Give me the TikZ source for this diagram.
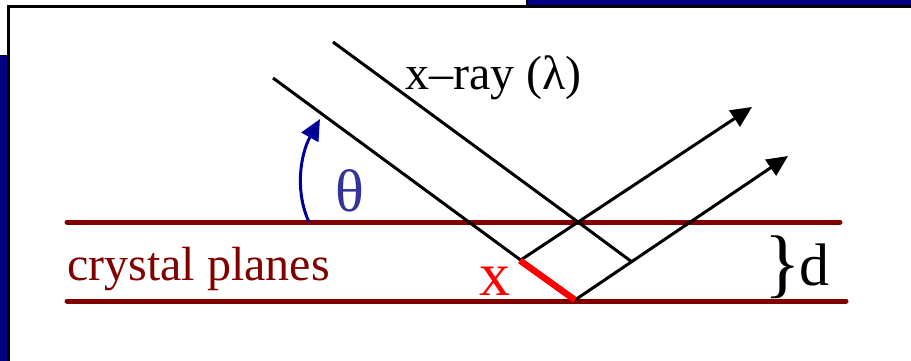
\documentclass[tikz,border=0pt]{standalone}
\usepackage{fontspec}
\setmainfont{Liberation Serif}
\usetikzlibrary{arrows.meta}
\definecolor{planered}{HTML}{800000}
\definecolor{slideblue}{HTML}{000080}
\definecolor{arcblue}{HTML}{000099}
\definecolor{thetablue}{HTML}{333399}
\tikzset{
  plane/.style={draw=planered, line width=5pt, line cap=round},
  ray/.style={draw=black, line width=3pt},
  rayarrow/.style={ray, -{Triangle[length=21pt,width=19pt]}},
  pathx/.style={draw=red, line width=6.5pt},
  lbl/.style={inner sep=0pt, anchor=base west},
}
\begin{document}
\begin{tikzpicture}[x=1pt,y=-1pt]
\useasboundingbox (0,0) rectangle (911,361);
% slide background pieces
\fill[slideblue] (0,55) rectangle (8,361);
\fill[slideblue] (527,0) rectangle (911,6);
\draw[black, line width=1.5pt] (527,0) -- (527,6);
\draw[black, line width=1pt] (0,55.5) -- (8,55.5);
\draw[black, line width=3pt] (8.5,361) -- (8.5,6.5) -- (911,6.5);

% points
\coordinate (A1) at (273,78);
\coordinate (P1) at (575,300);
\coordinate (Q) at (520,260.5);
\coordinate (A2) at (333,42);
\coordinate (P2) at (578,222);
\coordinate (C) at (632,262);
\coordinate (T1) at (788,156);
\coordinate (T2) at (752,107);
\coordinate (U1) at (67,222);
\coordinate (U2) at (840,222);
\coordinate (L1) at (67,301);
\coordinate (L2) at (846,301);
\coordinate (B0) at (309,222);
\coordinate (B1) at (320,119);

% crystal planes
\draw[plane] (U1) -- (U2);
\draw[plane] (L1) -- (L2);

% rays
\draw[ray] (A1) -- (P1);
\draw[ray] (A2) -- (P2) -- (C);
\draw[rayarrow] (P1) -- (T1);
\draw[rayarrow] (Q) -- (T2);
\draw[pathx] (Q) -- (P1);

% angle arrow
\draw[arcblue, line width=3pt, -{Triangle[length=21pt,width=19pt]}]
  (B0) .. controls (295,192) and (300,155) .. (B1);

% labels
\node[lbl] (xray) at (405,89) {\fontsize{48}{48}\selectfont x–ray (λ)};
\node[lbl, text=planered] (cp) at (67,280) {\fontsize{48}{48}\selectfont crystal planes};
\node[lbl, text=thetablue] (th) at (335,211) {\fontsize{60}{60}\selectfont θ};
\node[lbl, text=red] (xl) at (479,295) {\fontsize{62}{62}\selectfont x};
\node[inner sep=0pt, anchor=west] (br) at (764,267) {\fontsize{76}{76}\selectfont \}};
\node[lbl] (dl) at (799,285) {\fontsize{60}{60}\selectfont d};
\end{tikzpicture}
\end{document}
